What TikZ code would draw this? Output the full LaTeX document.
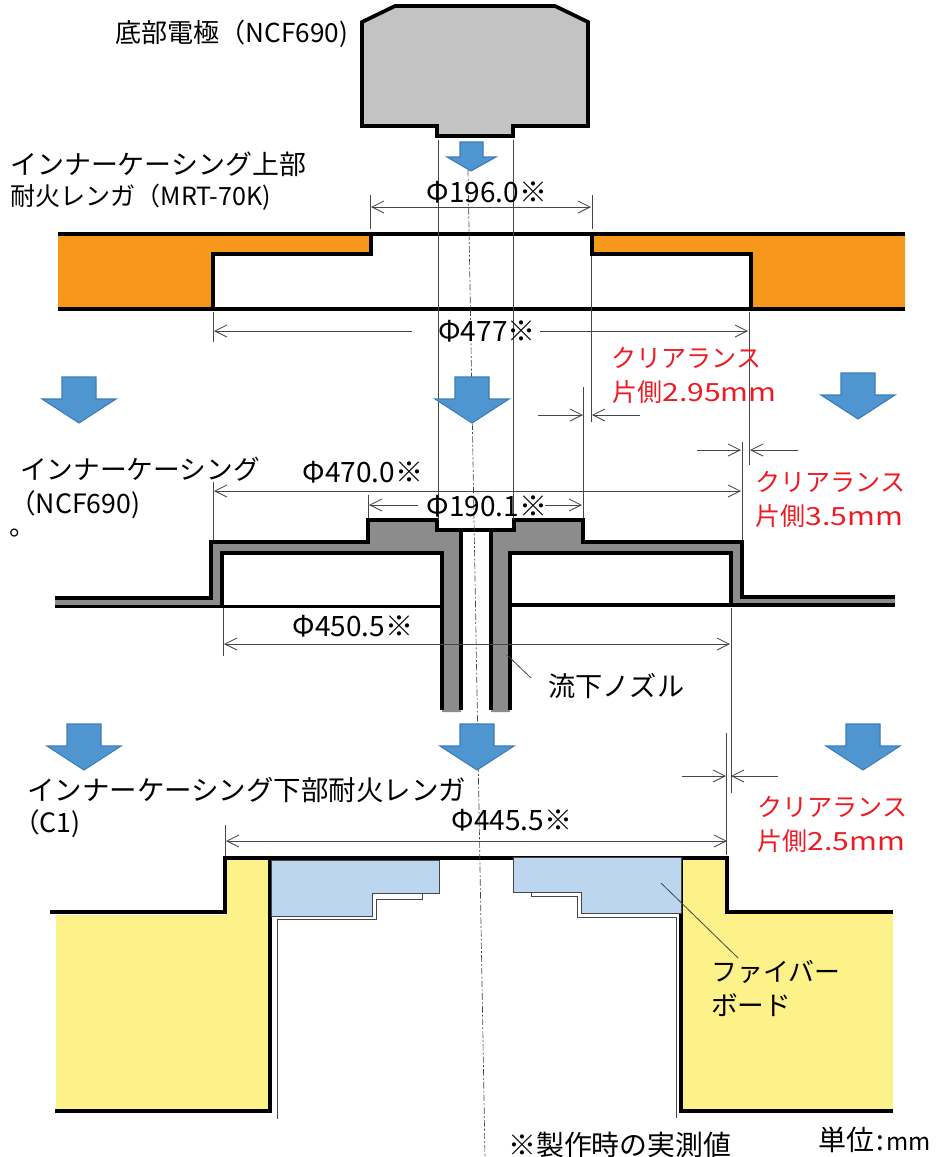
\documentclass[tikz,border=0pt]{standalone}
\usepackage{fontspec}
\setmainfont{Noto Sans CJK JP}
\usetikzlibrary{arrows.meta}
\definecolor{casegray}{RGB}{140,140,140}
\definecolor{electrodegray}{RGB}{195,195,195}
\definecolor{brickorange}{RGB}{247,152,29}
\definecolor{brickyellow}{RGB}{253,241,138}
\definecolor{boardblue}{RGB}{187,214,238}
\definecolor{flowblue}{RGB}{79,150,208}
\definecolor{flowedge}{RGB}{60,124,184}
\definecolor{clearred}{RGB}{237,28,36}
\definecolor{dimgray}{RGB}{70,70,70}
\newcommand{\widelatin}[1]{\scalebox{1.2}[1]{#1}}
\tikzset{
  thickline/.style={line width=2.8pt,line join=miter,draw=black},
  barbtip/.tip={Straight Barb[length=9pt,width=9pt]},
  dimline/.style={line width=0.6pt,draw=dimgray,barbtip-barbtip},
  halfdim/.style={line width=0.6pt,draw=dimgray,-barbtip},
  extline/.style={line width=0.6pt,draw=dimgray},
  flowarrow/.style={fill=flowblue,draw=flowedge,line width=0.8pt},
  textlabel/.style={anchor=west,inner sep=0pt,font=\fontsize{#1}{#1}\selectfont,text=black},
  textlabel/.default=20pt,
  dimlabel/.style={anchor=center,inner sep=0pt,font=\fontsize{21pt}{21pt}\selectfont,text=black},
  redlabel/.style={anchor=west,inner sep=0pt,font=\fontsize{18.8pt}{18.8pt}\selectfont,text=clearred},
}
\begin{document}
\begin{tikzpicture}[x=0.75pt,y=0.75pt,yscale=-1,xscale=1]
	\useasboundingbox (0,0) rectangle (941,1157);

	% bottom electrode
	\draw [thickline,fill=electrodegray] (362,22) -- (395,6) -- (555,6) -- (588,22) -- (588,126) -- (513,126) -- (513,136) -- (437,136) -- (437,126) -- (362,126) -- cycle;

	% upper brick
	\fill [brickorange] (58,234) -- (371,234) -- (371,254) -- (213,254) -- (213,309) -- (58,309) -- cycle;
	\fill [brickorange] (905,234) -- (592,234) -- (592,254) -- (751,254) -- (751,309) -- (905,309) -- cycle;
	\draw [thickline] (58,234) -- (905,234);
	\draw [thickline] (58,309) -- (905,309);
	\draw [thickline] (371,234) -- (371,254) -- (213,254) -- (213,309);
	\draw [thickline] (592,234) -- (592,254) -- (751,254) -- (751,309);

	% inner casing
	\fill [casegray] (55,598) -- (211,598) -- (211,542) -- (368,542) -- (368,520) -- (437,520) -- (437,530) -- (514,530) -- (514,520) -- (583,520) -- (583,542) -- (742,542) -- (742,597) -- (895,597) -- (895,605) -- (731,605) -- (731,553) -- (510,553) -- (510,712) -- (491,712) -- (491,530) -- (461,530) -- (461,712) -- (442,712) -- (442,553) -- (222,553) -- (222,606) -- (55,606) -- cycle;
	\draw [thickline] (55,598) -- (211,598) -- (211,542) -- (368,542) -- (368,520) -- (437,520) -- (437,530) -- (514,530) -- (514,520) -- (583,520) -- (583,542) -- (742,542) -- (742,597) -- (895,597);
	\draw [thickline] (55,606.5) -- (442,606.5);
	\draw [thickline] (222,606) -- (222,553) -- (442,553) -- (442,710);
	\draw [thickline] (461,530) -- (461,710);
	\draw [thickline] (491,530) -- (491,710);
	\draw [thickline] (510,710) -- (510,553) -- (731,553) -- (731,605);
	\draw [thickline] (510,605) -- (895,605);

	% lower brick
	\fill [brickyellow] (56,915) -- (225,915) -- (225,858) -- (270,858) -- (270,1110) -- (56,1110) -- cycle;
	\fill [brickyellow] (893,912) -- (727,912) -- (727,858) -- (681,858) -- (681,1110) -- (893,1110) -- cycle;
	\draw [thickline] (50,912) -- (225,912) -- (225,858) -- (727,858) -- (727,912) -- (893,912);
	\draw [thickline] (270,858) -- (270,1111) -- (55,1111);
	\draw [thickline] (681,858) -- (681,1111) -- (893,1111);

	% fibre board
	\draw [fill=boardblue,draw=dimgray,line width=0.7pt] (271,860) -- (439,860) -- (439,893) -- (372,893) -- (372,916) -- (271,916) -- cycle;
	\draw [fill=boardblue,draw=dimgray,line width=0.7pt] (513,857) -- (681,857) -- (681,913) -- (581,913) -- (581,892) -- (513,892) -- cycle;
	\draw [extline] (277,1119) -- (277,919) -- (376,919) -- (376,899) -- (422,899) -- (422,893);
	\draw [extline] (531,892) -- (531,896) -- (577,896) -- (577,917) -- (676,917) -- (676,1118);

	% centre line
	\draw [extline,line width=0.5pt,dash pattern=on 5pt off 1.5pt on 1.5pt off 1.5pt] (468,170) -- (485,1157);

	% extension lines
	\draw [extline] (438,140) -- (438,520);
	\draw [extline] (513,140) -- (513,520);
	\draw [extline] (370,195) -- (370,229);
	\draw [extline] (592,195) -- (592,229);
	\draw [extline] (591,256) -- (591,422);
	\draw [extline] (749,312) -- (749,465);
	\draw [extline] (213,312) -- (213,342);
	\draw [extline] (583,387) -- (583,518);
	\draw [extline] (742,442) -- (742,540);
	\draw [extline] (213,482) -- (213,540);
	\draw [extline] (368,495) -- (368,518);
	\draw [extline] (223,608) -- (223,656);
	\draw [extline] (731,608) -- (731,793);
	\draw [extline] (726,733) -- (726,855);
	\draw [extline] (225,825) -- (225,856);

	% dimensions
	\draw [dimline] (371,207) -- (591,207);
	\draw [halfdim] (412,331) -- (214,331);
	\draw [halfdim] (540,331) -- (748,331);
	\draw [dimline] (214,491) -- (741,491);
	\draw [halfdim] (418,505) -- (369,505);
	\draw [halfdim] (545,505) -- (582,505);
	\draw [dimline] (224,644) -- (730,644);
	\draw [dimline] (226,841) -- (727,841);

	% clearance arrows
	\foreach \xa/\xb/\xc/\xd/\ya in {538/583/640/592/415,697/741/798/750/450,682/726/778/731/776}{
		\draw [halfdim] (\xa,\ya) -- (\xb,\ya);
		\draw [halfdim] (\xc,\ya) -- (\xd,\ya);
	}

	% leaders
	\draw [extline] (507,655) -- (531,678);
	\draw [extline] (661,883) -- (738,958);

	% flow arrows
	\foreach \cx/\ty in {79/377,472/377,858/373,84/724,477/724,863/724}{
		\draw [flowarrow] (\cx-17,\ty) -- (\cx+17,\ty) -- (\cx+17,\ty+22) -- (\cx+37,\ty+22) -- (\cx,\ty+46) -- (\cx-37,\ty+22) -- (\cx-17,\ty+22) -- cycle;
	}
	\draw [flowarrow] (460,142) -- (483,142) -- (483,157) -- (496,157) -- (471,171) -- (447,157) -- (460,157) -- cycle;

	% Text Node
	\node (electrodeName) [textlabel=19.6pt] at (115,34) {底部電極（NCF690)};
	\node (upperBrickA) [textlabel=20.2pt] at (10,164) {インナーケーシング上部};
	\node (upperBrickB) [textlabel=18.8pt] at (10,197) {耐火レンガ（MRT-70K)};
	\node (caseNameA) [textlabel] at (20,469) {インナーケーシング};
	\node (caseNameB) [textlabel] at (9,505) {（NCF690)};
	\node (strayMark) [textlabel] at (9,535) {\smash{。}};
	\node (nozzleName) [textlabel=20.4pt] at (548,686) {流下ノズル};
	\node (lowerBrickA) [textlabel=20.6pt] at (27,790) {インナーケーシング下部耐火レンガ};
	\node (lowerBrickB) [textlabel] at (13,824) {（C1)};
	\node (boardA) [textlabel=19.4pt] at (711,972) {ファイバー};
	\node (boardB) [textlabel] at (711,1005) {ボード};
	\node (noteName) [textlabel=20.9pt] at (508,1145) {※製作時の実測値};
	\node (unitName) [textlabel=21pt] at (818,1140) {単位\hspace{1.5pt}:\hspace{2pt}{\fontsize{18pt}{18pt}\selectfont mm}};

	\node (phiA) [dimlabel] at (487,192) {Φ196.0※};
	\node (phiB) [dimlabel] at (487,331) {Φ477※};
	\node (phiC) [dimlabel] at (363,472) {Φ470.0※};
	\node (phiD) [dimlabel] at (487,506) {Φ190.1※};
	\node (phiE) [dimlabel] at (353,626) {Φ450.5※};
	\node (phiF) [dimlabel] at (512,820) {Φ445.5※};

	\node (clearA) [redlabel] at (611,358) {クリアランス};
	\node (clearB) [redlabel] at (612,392) {片側\widelatin{2.95mm}};
	\node (clearC) [redlabel] at (755,482) {クリアランス};
	\node (clearD) [redlabel] at (755,516) {片側\widelatin{3.5mm}};
	\node (clearE) [redlabel] at (757,807) {クリアランス};
	\node (clearF) [redlabel] at (757,841) {片側\widelatin{2.5mm}};
\end{tikzpicture}
\end{document}
